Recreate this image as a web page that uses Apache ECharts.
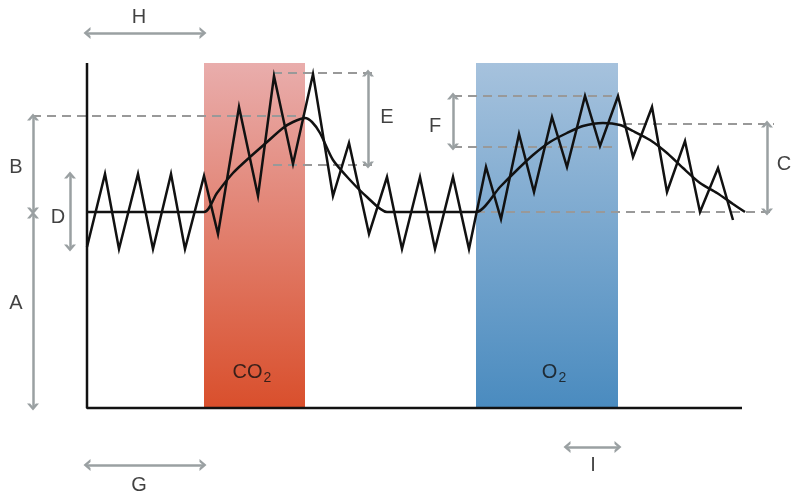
<!DOCTYPE html>
<html>
<head>
<meta charset="utf-8">
<script src="https://cdn.jsdelivr.net/npm/echarts@6/dist/echarts.min.js"></script>
<style>html,body{margin:0;padding:0;background:#fff}#c{width:800px;height:501px}</style>
</head>
<body>
<div id="c"></div>
<script>
// Schematic units: x = time (axis origin 0), y = level (baseline 0)
const axisFrame = [[0, 345], [0, 0], [655, 0]];
const zigzag = [[0,161],[18,234],[32,159],[51,234],[66,159],[84,234],[98,159],[117,232],[131,174],[152,301],[171,212],[187,332],[206,244],[226,334],[246,212],[262,265],[282,174],[300,231],[315,159],[333,231],[348,159],[366,231],[382,159],[399,241],[414,189],[432,274],[447,216],[465,291],[480,241],[498,312],[513,262],[531,312],[546,251],[565,301],[580,216],[598,267],[613,196],[631,240],[646,188]];
const trend = [[0,196],[117,196],[130,215],[146,235],[163,251],[180,266],[196,280],[206,286],[218,290],[225,286],[233,275],[246,248],[263,228],[280,211],[300,196],[389,196],[413,221],[430,238],[446,253],[463,266],[480,275],[496,282],[516,285],[533,283],[546,277],[563,268],[580,255],[596,240],[613,225],[630,215],[646,204],[658,196]];
const bandNames = ['CO2', 'O2'];
const bandFrom = [117, 389];
const bandTo = [218, 531];
const bandTop = 345;
const bandLabels = [['{a|CO}{s|2}', 165, 36], ['{a|O}{s|2}', 467, 36]];
const guides = [
  [[-55,292],[218,292]],
  [[186,335],[285,335]],
  [[186,243],[285,243]],
  [[366,312],[531,312]],
  [[366,261],[531,261]],
  [[536,284],[687,284]],
  [[389,196],[687,196]]
];
const arrows = [
  [[0,375],[116,375]],
  [[0,-57],[116,-57]],
  [[480,-39],[531,-39]],
  [[-54,193],[-54,1]],
  [[-54,291],[-54,197]],
  [[-17,233],[-17,160]],
  [[281,335],[281,243]],
  [[366,312],[366,261]],
  [[680,284],[680,196]]
];
const letters = [['H',52,391],['G',52,-77],['I',506,-57],['A',-71,105],['B',-71,241],['D',-29,191],['E',300,291],['F',348,282],['C',697,244]];

const chart = echarts.init(document.getElementById('c'), null, {renderer: 'canvas'});
const chevron = 'path://M0,10 L5,0 L10,10 L7.4,10 L5,5.2 L2.6,10 Z';
const bandColors = [
  [{offset:0,color:'#e9adac'},{offset:1,color:'#d94f2c'}],
  [{offset:0,color:'#a6c2dd'},{offset:1,color:'#4a8bbf'}]
];
const series = [];
series.push({
  type: 'line', silent: true, data: [], z: 1,
  markArea: {
    silent: true,
    data: bandNames.map((n, i) => [
      {coord: [bandFrom[i], bandTop], itemStyle: {color: new echarts.graphic.LinearGradient(0,0,0,1,bandColors[i]), opacity: 1}},
      {coord: [bandTo[i], 0]}
    ])
  }
});
guides.forEach(g => series.push({
  type: 'line', data: g, symbol: 'none', silent: true, z: 3,
  lineStyle: {color: '#999999', width: 2, type: [9, 6]}
}));
series.push({type: 'line', data: axisFrame, symbol: 'none', silent: true, z: 5, lineStyle: {color: '#111', width: 2.5}});
series.push({type: 'line', data: zigzag, symbol: 'none', silent: true, z: 6, lineStyle: {color: '#111', width: 2.5, join: 'miter'}});
series.push({type: 'line', data: trend, symbol: 'none', smooth: 0.25, silent: true, z: 6, lineStyle: {color: '#111', width: 2.5}});
series.push({
  type: 'line', data: [], silent: true, z: 4,
  markLine: {
    silent: true, symbol: [chevron, chevron], symbolSize: [12, 7],
    label: {show: false},
    lineStyle: {color: '#9aa0a2', width: 2.5, type: 'solid'},
    data: arrows.map(a => [{coord: a[0]}, {coord: a[1]}])
  }
});
series.push({
  type: 'scatter', silent: true, symbolSize: 0, z: 7,
  data: letters.map(l => ({value: [l[1], l[2]], name: l[0]})),
  label: {show: true, position: 'inside', formatter: p => p.name, color: '#111', fontSize: 20, fontFamily: 'Liberation Sans, Arial, sans-serif'}
});
series.push({
  type: 'scatter', silent: true, symbolSize: 0, z: 7,
  data: bandLabels.map(l => ({value: [l[1], l[2]], name: l[0]})),
  label: {show: true, position: 'inside', formatter: p => p.name,
    rich: {
      a: {color: '#111', fontSize: 20, fontFamily: 'Liberation Sans, Arial, sans-serif'},
      s: {color: '#111', fontSize: 14, fontFamily: 'Liberation Sans, Arial, sans-serif', padding: [12, 0, 0, 1]}
    }}
});

chart.setOption({
  backgroundColor: '#ffffff',
  animation: false,
  grid: {left: 0, right: 0, top: 0, bottom: 0},
  xAxis: {type: 'value', min: -87, max: 713, show: false},
  yAxis: {type: 'value', min: -93, max: 408, show: false},
  series: series
});
</script>
</body>
</html>
